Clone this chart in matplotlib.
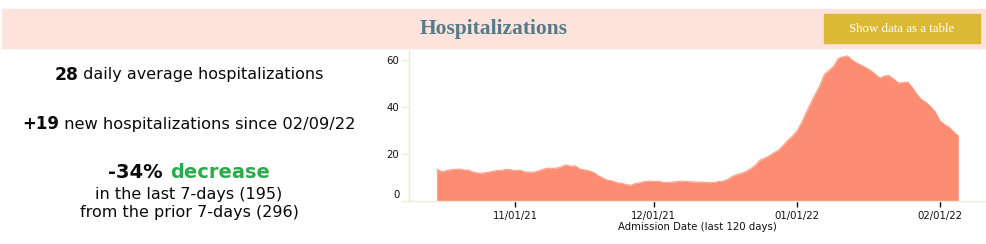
import numpy as np
import matplotlib
matplotlib.use("Agg")
import matplotlib.pyplot as plt
import matplotlib.dates as mdates
from matplotlib.patches import Rectangle
from matplotlib.transforms import ScaledTranslation

# ---------------- data ----------------
start_date = np.datetime64("2021-10-15")
hospitalizations = [
    13.6, 12.5, 12.9, 13.3, 13.5, 13.6, 13.2, 13.1, 12.2, 11.9,
    11.9, 12.2, 12.6, 13.0, 13.1, 13.5, 13.3, 12.9, 13.2, 12.4,
    12.3, 12.3, 12.8, 13.5, 14.0, 13.9, 14.0, 14.6, 15.4, 14.8,
    15.0, 13.6, 13.3, 12.8, 12.2, 10.8, 9.8, 8.8, 8.6, 7.8,
    7.6, 7.0, 6.7, 7.4, 7.8, 8.3, 8.5, 8.3, 8.5, 8.0,
    7.9, 8.1, 8.2, 8.5, 8.3, 8.2, 8.1, 8.1, 8.0, 7.8,
    7.9, 8.3, 8.5, 9.2, 10.4, 11.3, 11.8, 12.6, 13.8, 15.2,
    17.4, 18.2, 19.2, 20.5, 21.6, 23.5, 25.8, 27.5, 29.8, 33.2,
    37.5, 41.6, 45.5, 49.2, 54.0, 55.6, 57.5, 60.8, 61.4, 61.8,
    60.0, 58.8, 57.8, 56.8, 55.6, 54.0, 52.4, 53.3, 53.4, 52.0,
    50.3, 50.4, 50.7, 48.5, 45.5, 43.3, 42.0, 40.2, 38.0, 34.2,
    32.6, 31.4, 29.5, 27.7,
]
dates = start_date + np.arange(len(hospitalizations)).astype("timedelta64[D]")
x_ticks = ["2021-11-01", "2021-12-01", "2022-01-01", "2022-02-01"]
y_ticks = [0, 20, 40, 60]
x_range = ["2021-10-09", "2022-02-11"]

title = "Hospitalizations"
button_label = "Show data as a table"
avg_value = "28"
new_value = "+19"
new_since = "02/09/22"
pct_change = "-34%"
last7 = 195
prior7 = 296
x_label = "Admission Date (last 120 days)"

# ---------------- figure ----------------
W, H = 987, 244
fig = plt.figure(figsize=(W / 100, H / 100), dpi=100)
fig.patch.set_facecolor("white")

def fx(px):
    return px / W

def fy(py):
    return 1 - py / H

# header band
fig.patches.append(Rectangle((fx(2), fy(48)), fx(983), 39 / H,
                             transform=fig.transFigure, color="#FEE3DD", zorder=0))
fig.text(fx(494), fy(29), title, ha="center", va="center",
         family="Liberation Serif", weight="bold", fontsize=15.5,
         color="#567B88")
# button
fig.patches.append(Rectangle((fx(824), fy(43)), fx(156), 29 / H,
                             transform=fig.transFigure, color="#DBB934", zorder=1))
fig.text(fx(902), fy(28.5), button_label, ha="center", va="center",
         family="Liberation Serif", fontsize=9.3, color="white", zorder=2)

# ---------------- left summary text ----------------
renderer = fig.canvas.get_renderer()

def centered_runs(cx, cy, runs):
    objs = []
    for txt, props in runs:
        t = fig.text(0, fy(cy), txt, va="center", ha="left", **props)
        objs.append(t)
    widths = [t.get_window_extent(renderer).width for t in objs]
    total = sum(widths)
    x = cx - total / 2
    for t, w in zip(objs, widths):
        t.set_x(fx(x))
        x += w

base = dict(family="DejaVu Sans", color="#0A0A0A")
centered_runs(189, 75, [(avg_value, dict(base, fontsize=12.3, weight="bold")),
                        (" daily average hospitalizations", dict(base, fontsize=11.5))])
centered_runs(189, 124, [(new_value, dict(base, fontsize=12, weight="bold")),
                         (" new hospitalizations since " + new_since, dict(base, fontsize=11.7))])
centered_runs(189, 173, [(pct_change + " ", dict(base, fontsize=14, weight="bold")),
                         ("decrease", dict(family="DejaVu Sans", fontsize=14,
                                           weight="bold", color="#2DAA4B"))])
fig.text(fx(189), fy(194), f"in the last 7-days ({last7})", ha="center", va="center",
         fontsize=11.5, **base)
fig.text(fx(189), fy(213), f"from the prior 7-days ({prior7})", ha="center", va="center",
         fontsize=11.5, **base)

# ---------------- chart ----------------
ax = fig.add_axes([fx(409), fy(201), fx(986 - 409), 151 / H])
ax.set_facecolor("none")
xd = dates.astype("datetime64[D]").astype(object)
ax.fill_between(xd, 0, hospitalizations, color="#FC8C72", linewidth=0, zorder=2)
ax.plot(xd, hospitalizations, color="#FC9A80", linewidth=0.7, zorder=3)
ax.set_xlim(np.datetime64(x_range[0]).astype(object), np.datetime64(x_range[1]).astype(object))
ax.set_ylim(0, 64.3)

ax.set_xticks([np.datetime64(d).astype(object) for d in x_ticks])
ax.xaxis.set_major_formatter(mdates.DateFormatter("%m/%d/%y"))
ax.set_yticks(y_ticks)
ax.set_yticklabels([str(v) for v in y_ticks])

for s in ["top", "right"]:
    ax.spines[s].set_visible(False)
for s in ["left", "bottom"]:
    ax.spines[s].set_color("#EEEAD3")
    ax.spines[s].set_linewidth(1)

ax.tick_params(axis="x", direction="out", length=4, width=1, color="#111111",
               labelsize=7.3, labelcolor="#111111", pad=3)
ax.tick_params(axis="y", direction="out", length=5, width=1, color="#EEEAD3",
               labelsize=7.3, labelcolor="#111111", pad=2)
ax.set_xlabel(x_label, fontsize=7.3, color="#111111", labelpad=1)

# the "0" label sits slightly above its tick
lbl0 = ax.get_yticklabels()[0]
lbl0.set_transform(lbl0.get_transform() + ScaledTranslation(0, 7 / 100, fig.dpi_scale_trans))

fig.savefig("out.png", dpi=100, facecolor="white")
